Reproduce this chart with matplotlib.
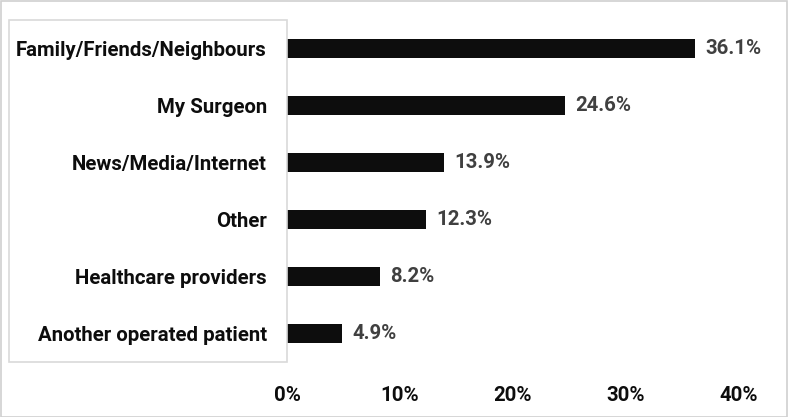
import matplotlib.pyplot as plt
from matplotlib.patches import Rectangle

# data, top to bottom as in the chart
sources = ['Family/Friends/Neighbours', 'My Surgeon', 'News/Media/Internet',
           'Other', 'Healthcare providers', 'Another operated patient']
shares = [36.1, 24.6, 13.9, 12.3, 8.2, 4.9]
x_ticks = [0, 10, 20, 30, 40]
x_tick_labels = ['0%', '10%', '20%', '30%', '40%']

plt.rcParams['font.family'] = ['Roboto', 'DejaVu Sans']
plt.rcParams['font.weight'] = 'bold'
FS = 14.7

W, H = 788, 417
fig = plt.figure(figsize=(W / 100, H / 100), dpi=100)

# axes placed in pixel units
left, right, top, bottom = 287, 739, 20, 362
ax = fig.add_axes([left / W, 1 - bottom / H, (right - left) / W, (bottom - top) / H])

ypos = list(range(len(sources)))[::-1]
ax.barh(ypos, shares, height=0.35, color='#0d0d0d')
for y, v in zip(ypos, shares):
    ax.text(v + 0.9, y, f'{v:.1f}%', va='center', ha='left', fontsize=FS,
            fontweight='bold', color='#404040', clip_on=False)

ax.set_xlim(0, 40)
ax.set_ylim(-0.5, len(sources) - 0.5)
ax.set_yticks(ypos)
ax.set_yticklabels(sources, fontsize=FS, fontweight='bold', color='#0d0d0d')
ax.set_xticks(x_ticks)
ax.set_xticklabels(x_tick_labels, fontsize=FS, fontweight='bold', color='#0d0d0d')
ax.tick_params(axis='y', length=0, pad=14.5)
ax.tick_params(axis='x', length=0, pad=17)
for s in ax.spines.values():
    s.set_visible(False)

# light box around the category labels
fig.add_artist(Rectangle((9 / W, 1 - 362 / H), (287 - 9) / W, (362 - 20) / H,
                         transform=fig.transFigure, fill=False,
                         edgecolor='#d9d9d9', linewidth=1.2))
# outer border
fig.add_artist(Rectangle((0.5 / W, 0.5 / H), 1 - 1.5 / W, 1 - 1.5 / H,
                         transform=fig.transFigure, fill=False,
                         edgecolor='#d0d0d0', linewidth=1.2))

fig.savefig('out.png', dpi=100)
